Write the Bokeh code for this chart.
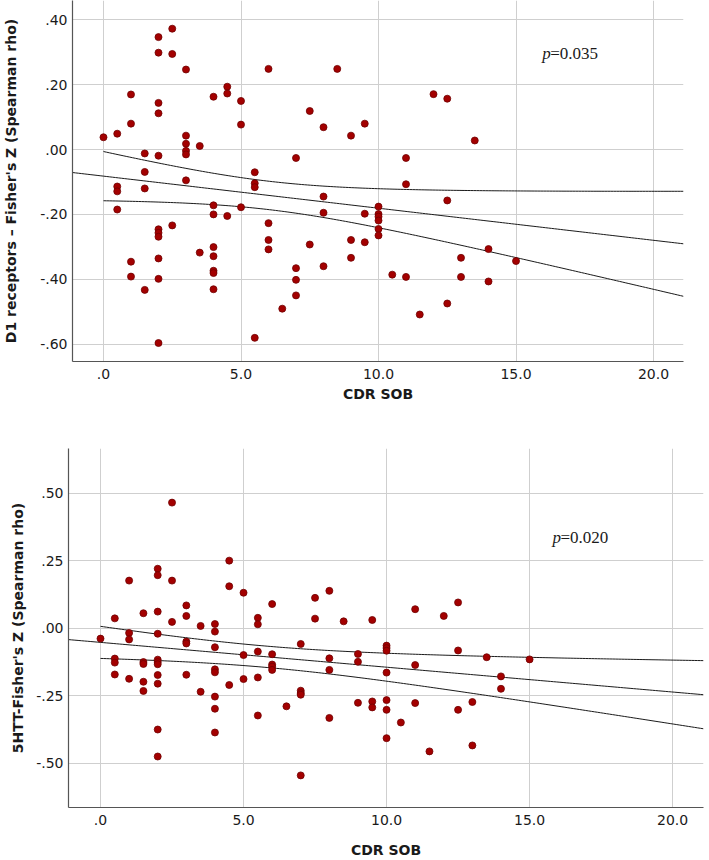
import numpy as np
from bokeh.plotting import figure
from bokeh.layouts import column
from bokeh.models import FixedTicker, Label, Range1d
from bokeh.embed import file_html
from bokeh.resources import INLINE

# ---------------- data ----------------
# Top panel: D1 receptors
d1_cdr_sob = [0.0,
              0.5, 0.5, 0.5, 0.5,
              1.0, 1.0, 1.0, 1.0,
              1.5, 1.5, 1.5, 1.5,
              2.0, 2.0, 2.0, 2.0, 2.0, 2.0, 2.0, 2.0, 2.0, 2.0, 2.0,
              2.5, 2.5, 2.5,
              3.0, 3.0, 3.0, 3.0, 3.0, 3.0,
              3.5, 3.5,
              4.0, 4.0, 4.0, 4.0, 4.0, 4.0, 4.0, 4.0,
              4.5, 4.5, 4.5,
              5.0, 5.0, 5.0,
              5.5, 5.5, 5.5, 5.5,
              6.0, 6.0, 6.0, 6.0,
              6.5,
              7.0, 7.0, 7.0, 7.0,
              7.5, 7.5,
              8.0, 8.0, 8.0, 8.0,
              8.5,
              9.0, 9.0, 9.0,
              9.5, 9.5, 9.5,
              10.0, 10.0, 10.0, 10.0, 10.0, 10.0,
              10.5,
              11.0, 11.0, 11.0,
              11.5,
              12.0,
              12.5, 12.5, 12.5,
              13.0, 13.0,
              13.5,
              14.0, 14.0,
              15.0]
d1_fisher_z = [0.038,
               0.049, -0.114, -0.129, -0.185,
               0.170, 0.080, -0.346, -0.392,
               -0.012, -0.069, -0.120, -0.433,
               0.347, 0.299, 0.144, 0.112, -0.019, -0.246, -0.257, -0.269, -0.336, -0.399, -0.597,
               0.373, 0.295, -0.234,
               0.247, 0.043, 0.018, -0.004, -0.015, -0.095,
               0.011, -0.318,
               0.163, -0.172, -0.200, -0.301, -0.329, -0.374, -0.381, -0.431,
               0.194, 0.173, -0.205,
               0.150, 0.077, -0.178,
               -0.070, -0.104, -0.116, -0.581,
               0.249, -0.227, -0.279, -0.308,
               -0.491,
               -0.026, -0.366, -0.402, -0.450,
               0.119, -0.293,
               0.069, -0.145, -0.195, -0.360,
               0.249,
               0.043, -0.279, -0.334,
               0.080, -0.198, -0.286,
               -0.176, -0.199, -0.207, -0.219, -0.245, -0.265,
               -0.386,
               -0.026, -0.107, -0.393,
               -0.509,
               0.171,
               0.157, -0.157, -0.475,
               -0.334, -0.393,
               0.028,
               -0.307, -0.407,
               -0.344]
# fit line and 95% CI of the mean
d1_fit_intercept = -0.082
d1_fit_slope = -0.0099
d1_ci_center = 6.0
d1_ci_half_min = 0.0438
d1_ci_growth = 0.01034

# Bottom panel: 5HTT
htt_cdr_sob = [0.0,
               0.5, 0.5, 0.5, 0.5,
               1.0, 1.0, 1.0, 1.0,
               1.5, 1.5, 1.5, 1.5, 1.5,
               2.0, 2.0, 2.0, 2.0, 2.0, 2.0, 2.0, 2.0, 2.0, 2.0, 2.0,
               2.5, 2.5, 2.5,
               3.0, 3.0, 3.0, 3.0, 3.0,
               3.5, 3.5,
               4.0, 4.0, 4.0, 4.0, 4.0, 4.0, 4.0, 4.0,
               4.5, 4.5, 4.5,
               5.0, 5.0, 5.0,
               5.5, 5.5, 5.5, 5.5, 5.5,
               6.0, 6.0, 6.0, 6.0, 6.0,
               6.5,
               7.0, 7.0, 7.0, 7.0, 7.0,
               7.5, 7.5,
               8.0, 8.0, 8.0, 8.0,
               8.5,
               9.0, 9.0, 9.0,
               9.5, 9.5, 9.5,
               10.0, 10.0, 10.0, 10.0, 10.0, 10.0, 10.0,
               10.5,
               11.0, 11.0, 11.0,
               11.5,
               12.0,
               12.5, 12.5, 12.5,
               13.0, 13.0,
               13.5,
               14.0, 14.0,
               15.0]
htt_fisher_z = [-0.038,
                0.037, -0.112, -0.127, -0.171,
                0.177, -0.017, -0.041, -0.187,
                0.056, -0.125, -0.132, -0.198, -0.232,
                0.221, 0.197, 0.062, -0.020, -0.116, -0.125, -0.133, -0.173, -0.205, -0.375, -0.475,
                0.466, 0.177, 0.024,
                0.085, 0.046, -0.049, -0.056, -0.172,
                0.009, -0.235,
                0.016, -0.012, -0.070, -0.152, -0.163, -0.253, -0.298, -0.386,
                0.251, 0.156, -0.210,
                0.132, -0.099, -0.188,
                0.039, 0.015, -0.086, -0.182, -0.323,
                0.090, -0.096, -0.134, -0.142, -0.154,
                -0.289,
                -0.058, -0.231, -0.240, -0.246, -0.545,
                0.113, 0.036,
                0.139, -0.111, -0.154, -0.332,
                0.026,
                -0.095, -0.124, -0.276,
                0.031, -0.271, -0.293,
                -0.064, -0.073, -0.083, -0.164, -0.266, -0.302, -0.407,
                -0.349,
                0.071, -0.136, -0.277,
                -0.456,
                0.046,
                0.096, -0.082, -0.302,
                -0.273, -0.434,
                -0.107,
                -0.178, -0.224,
                -0.115]
htt_fit_intercept = -0.052
htt_fit_slope = -0.0092
htt_ci_center = 5.7
htt_ci_half_min = 0.0395
htt_ci_growth = 0.0078

x_ticks = [0.0, 5.0, 10.0, 15.0, 20.0]
x_tick_labels = [".0", "5.0", "10.0", "15.0", "20.0"]
d1_y_ticks = [0.4, 0.2, 0.0, -0.2, -0.4, -0.6]
d1_y_tick_labels = [".40", ".20", ".00", "-.20", "-.40", "-.60"]
htt_y_ticks = [0.5, 0.25, 0.0, -0.25, -0.5]
htt_y_tick_labels = [".50", ".25", ".00", "-.25", "-.50"]

x_title = "CDR SOB"
d1_y_title = "D1 receptors \u2013 Fisher's Z (Spearman rho)"
htt_y_title = "5HTT-Fisher's Z (Spearman rho)"
d1_p_value = "=0.035"
htt_p_value = "=0.020"

POINT_FILL = "#a30000"
POINT_LINE = "#700000"
GRID = "#cfcfcf"
AXIS = "#555555"
INK = "#1a1a1a"


def make_panel(xs, ys, fit, y_ticks, y_labels, y_title, p_text, p_pos,
               x_rng, y_rng, frame_w, frame_h, borders, y_label_standoff,
               x_label_standoff):
    bl, br, bt, bb = borders
    p = figure(frame_width=frame_w, frame_height=frame_h,
               x_range=Range1d(*x_rng), y_range=Range1d(*y_rng),
               output_backend="svg", toolbar_location=None,
               min_border_left=bl, min_border_right=br,
               min_border_top=bt, min_border_bottom=bb)
    p.outline_line_color = None
    p.background_fill_color = "white"
    p.border_fill_color = "white"

    p.xaxis.ticker = FixedTicker(ticks=x_ticks)
    p.xaxis.major_label_overrides = dict(zip(x_ticks, x_tick_labels))
    p.yaxis.ticker = FixedTicker(ticks=y_ticks)
    p.yaxis.major_label_overrides = dict(zip(y_ticks, y_labels))

    for ax in (p.xaxis[0], p.yaxis[0]):
        ax.major_tick_in = 0
        ax.major_tick_out = 0
        ax.minor_tick_line_color = None
        ax.axis_line_color = AXIS
        ax.axis_line_width = 1.2
        ax.major_label_text_font = "DejaVu Sans"
        ax.major_label_text_font_size = "14px"
        ax.major_label_text_color = INK
        ax.axis_label_text_font = "DejaVu Sans"
        ax.axis_label_text_font_size = "14px"
        ax.axis_label_text_font_style = "bold"
        ax.axis_label_text_color = INK
    p.xaxis.major_label_standoff = 7
    p.yaxis.major_label_standoff = 5
    p.xaxis.axis_label = x_title
    p.yaxis.axis_label = y_title
    p.xaxis.axis_label_standoff = x_label_standoff
    p.yaxis.axis_label_standoff = y_label_standoff

    p.xgrid.grid_line_color = GRID
    p.ygrid.grid_line_color = GRID
    p.xgrid.grid_line_width = 1
    p.ygrid.grid_line_width = 1

    intercept, slope, ci_c, ci_min, ci_g = fit
    fx = np.linspace(x_rng[0], x_rng[1], 200)
    p.line(fx, intercept + slope * fx, line_color=INK, line_width=1)
    cx = np.linspace(min(xs), x_rng[1], 200)
    half = np.sqrt(ci_min ** 2 + (ci_g * (cx - ci_c)) ** 2)
    fit_c = intercept + slope * cx
    p.line(cx, fit_c + half, line_color=INK, line_width=1)
    p.line(cx, fit_c - half, line_color=INK, line_width=1)

    p.scatter(xs, ys, size=7, fill_color=POINT_FILL, line_color=POINT_LINE,
              line_width=0.8)

    px, py = p_pos
    p.add_layout(Label(x=px, y=py, text="p", text_font="Liberation Serif",
                       text_font_style="italic", text_font_size="17px",
                       text_baseline="middle", text_align="left",
                       text_color=INK))
    p.add_layout(Label(x=px, y=py, x_offset=8, text=p_text,
                       text_font="Liberation Serif", text_font_size="17px",
                       text_baseline="middle", text_align="left",
                       text_color=INK))
    return p


top = make_panel(d1_cdr_sob, d1_fisher_z,
                 (d1_fit_intercept, d1_fit_slope, d1_ci_center,
                  d1_ci_half_min, d1_ci_growth),
                 d1_y_ticks, d1_y_tick_labels, d1_y_title, d1_p_value,
                 (15.95, 0.296),
                 (-1.127, 21.09), (-0.654, 0.46), 611, 361,
                 (72, 26, 0, 60), 18, 4)
bottom = make_panel(htt_cdr_sob, htt_fisher_z,
                    (htt_fit_intercept, htt_fit_slope, htt_ci_center,
                     htt_ci_half_min, htt_ci_growth),
                    htt_y_ticks, htt_y_tick_labels, htt_y_title, htt_p_value,
                    (15.8, 0.338),
                    (-1.119, 21.08), (-0.664, 0.6666), 635, 359,
                    (68, 6, 27, 53), 7, 14)

# wrap each panel separately so their frames are not aligned to each other
layout = column(column(top), column(bottom), spacing=0)
open("out.html", "w").write(file_html(layout, INLINE))
